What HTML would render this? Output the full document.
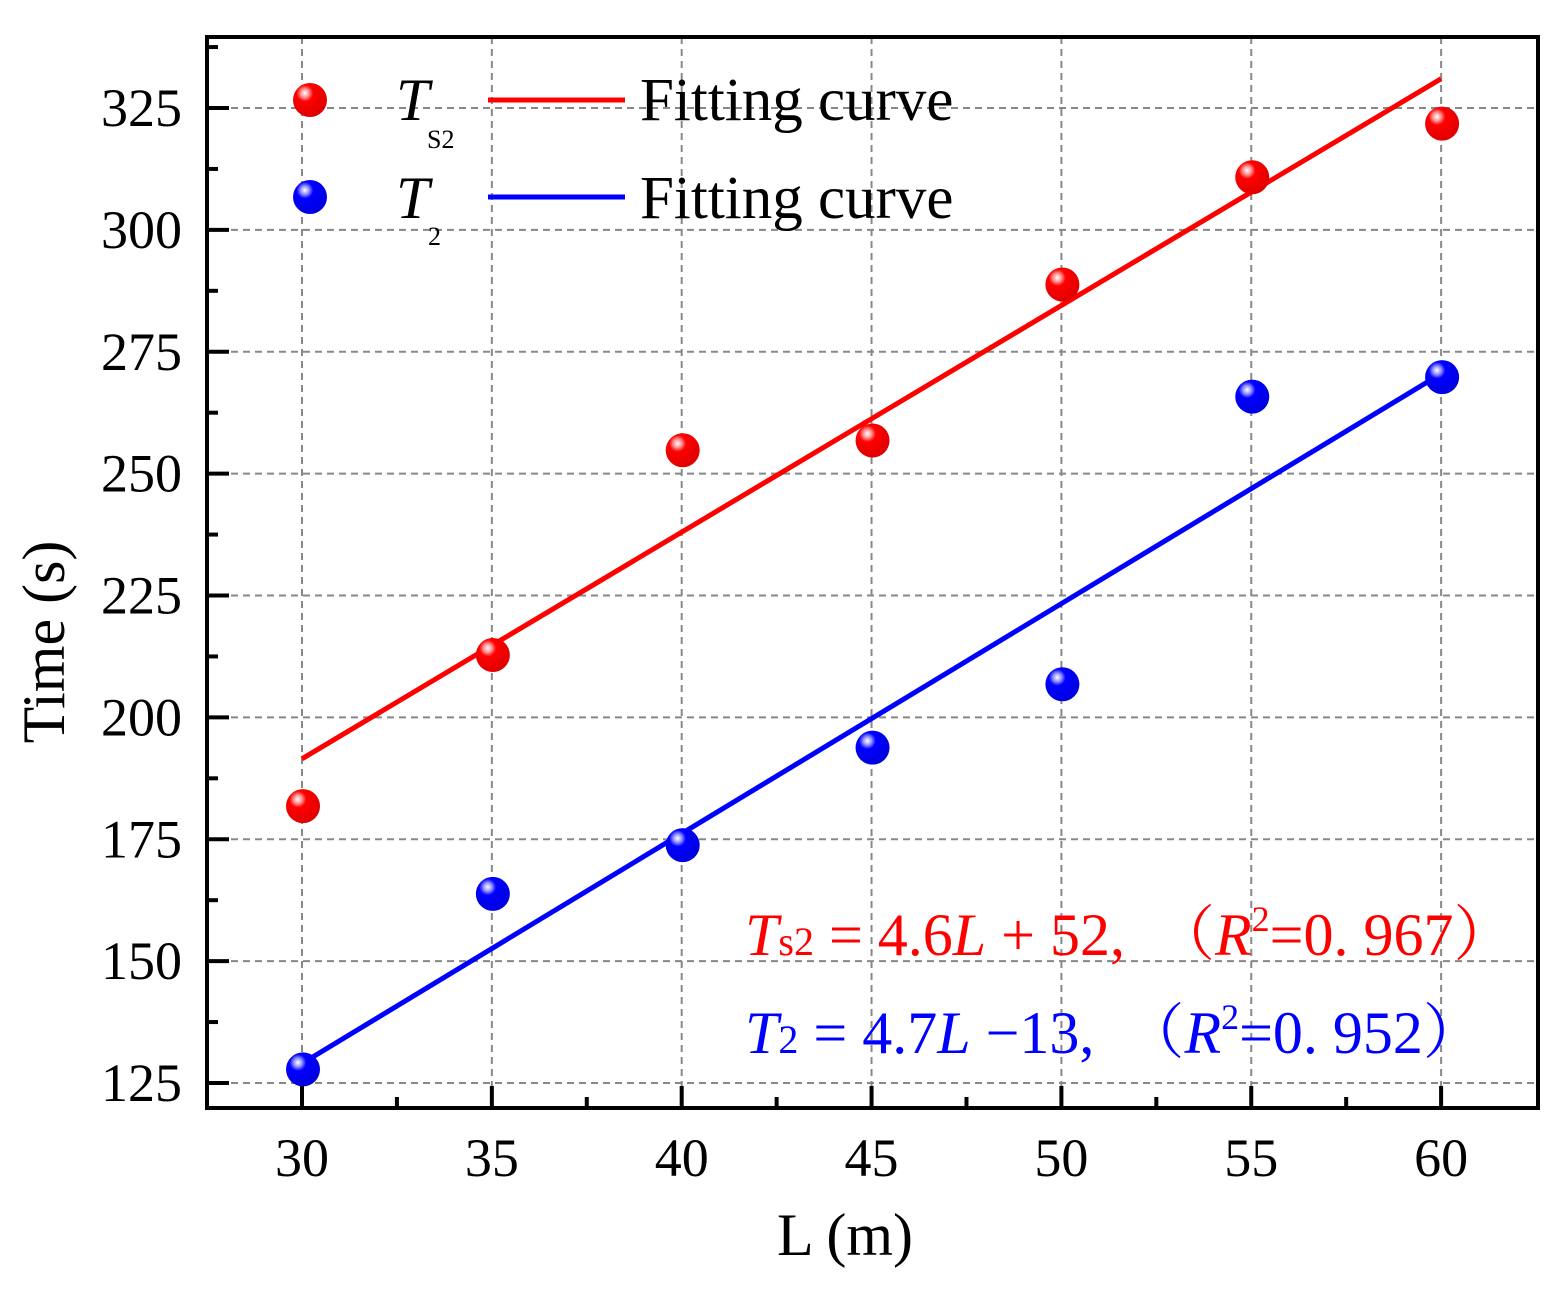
<!DOCTYPE html>
<html><head><meta charset="utf-8"><style>
body{margin:0;background:#fff}
svg{font-family:"Liberation Serif","Noto Serif CJK SC",serif}
</style></head><body>
<svg width="1566" height="1288" viewBox="0 0 1566 1288">
<defs>
<radialGradient id="gr" cx="0.35" cy="0.3" r="0.7"><stop offset="0" stop-color="#fff"/><stop offset="0.18" stop-color="#ff9090"/><stop offset="0.35" stop-color="#ff0000"/><stop offset="1" stop-color="#e00000"/></radialGradient>
<radialGradient id="gb" cx="0.35" cy="0.3" r="0.7"><stop offset="0" stop-color="#fff"/><stop offset="0.18" stop-color="#9090ff"/><stop offset="0.35" stop-color="#0000ff"/><stop offset="1" stop-color="#0000e0"/></radialGradient>
</defs>
<g id="grid"></g>
<g id="marks"></g>
<g id="axes"></g>
<text x="845" y="1255" font-size="60" text-anchor="middle">L (m)</text>
<text transform="translate(64,642) rotate(-90)" font-size="60" text-anchor="middle">Time (s)</text>
<g>
<circle cx="310" cy="100" r="17" fill="url(#gr)"/>
<text x="396" y="120" font-size="60" font-style="italic">T</text>
<text x="427" y="148" font-size="26">S2</text>
<line x1="488" y1="100" x2="625" y2="100" stroke="#f00" stroke-width="5"/>
<text x="640" y="120" font-size="61">Fitting curve</text>
<circle cx="310" cy="197" r="17" fill="url(#gb)"/>
<text x="396" y="218" font-size="60" font-style="italic">T</text>
<text x="428" y="245" font-size="26">2</text>
<line x1="488" y1="197" x2="625" y2="197" stroke="#00f" stroke-width="5"/>
<text x="640" y="218" font-size="61">Fitting curve</text>
</g>
<text x="745" y="955" font-size="60" fill="#f00"><tspan font-style="italic">T</tspan><tspan font-size="40">s2</tspan> = 4.6<tspan font-style="italic">L</tspan> + 52,　（<tspan font-style="italic">R</tspan><tspan font-size="36" dy="-24">2</tspan><tspan dy="24">=0. 967）</tspan></text>
<text x="745" y="1053" font-size="60" fill="#00f"><tspan font-style="italic">T</tspan><tspan font-size="40">2</tspan> = 4.7<tspan font-style="italic">L</tspan> −13,　（<tspan font-style="italic">R</tspan><tspan font-size="36" dy="-24">2</tspan><tspan dy="24">=0. 952）</tspan></text>
</svg>
<script>
const xCats=[30,35,40,45,50,55,60];
const ts2=[182,213,255,257,289,311,322];
const t2=[128,164,174,194,207,266,270];
const fitRed=[191.5,331];
const fitBlue=[129,270.5];
const yTicks=[125,150,175,200,225,250,275,300,325];
const NS="http://www.w3.org/2000/svg";
const L=207,R=1538,T=37,B=1108;
const X=v=>302+(v-30)*37.97;
const Y=v=>1083-(v-125)*4.875;
function mk(p,tag,a){const e=document.createElementNS(NS,tag);for(const k in a)e.setAttribute(k,a[k]);p.appendChild(e);return e;}
const grid=document.getElementById('grid'),marks=document.getElementById('marks'),axes=document.getElementById('axes');
xCats.forEach(v=>{const g=mk(grid,'line',{x1:X(v),x2:X(v),y1:T,y2:B,stroke:'#888','stroke-width':2,'stroke-dasharray':'7 5'});

});
yTicks.forEach(v=>{const g=mk(grid,'line',{x1:L,x2:R,y1:Y(v),y2:Y(v),stroke:'#888','stroke-width':2,'stroke-dasharray':'7 5'});

});
function fit(arr,col,name){const l=mk(marks,'line',{x1:X(30),y1:Y(arr[0]),x2:X(60),y2:Y(arr[1]),stroke:col,'stroke-width':5});

}
fit(fitRed,'#f00','fit-line-ts2');fit(fitBlue,'#00f','fit-line-t2');
function pts(arr,grad,name){arr.forEach((v,i)=>{const c=mk(marks,'circle',{cx:X(xCats[i])+1,cy:Y(v)+1,r:17,fill:grad});

});}
pts(ts2,'url(#gr)','point-ts2');pts(t2,'url(#gb)','point-t2');
const fr=mk(axes,'rect',{x:L,y:T,width:R-L,height:B-T,fill:'none',stroke:'#000','stroke-width':4});


for(let v=27.5;v<=62.5;v+=2.5){const major=(v%5===0);if(v<28||v>62)continue;
const t=mk(axes,'line',{x1:X(v),x2:X(v),y1:B,y2:B-(major?22:11),stroke:'#000','stroke-width':4});

}
xCats.forEach(v=>{const t=mk(axes,'text',{x:X(v),y:1176,'font-size':54,'text-anchor':'middle'});t.textContent=v;

});
for(let v=125;v<=337.5;v+=12.5){const major=(v%25===0);
const t=mk(axes,'line',{x1:L,x2:L+(major?22:11),y1:Y(v),y2:Y(v),stroke:'#000','stroke-width':4});

}
yTicks.forEach(v=>{const t=mk(axes,'text',{x:182,y:Y(v)+18,'font-size':54,'text-anchor':'end'});t.textContent=v;

});
</script>
</body></html>
